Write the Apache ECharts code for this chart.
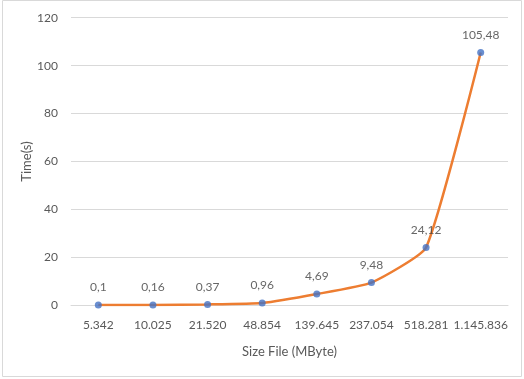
<!DOCTYPE html>
<html><head><meta charset="utf-8">
<script src="https://cdn.jsdelivr.net/npm/echarts@6/dist/echarts.min.js"></script>
<style>html,body{margin:0;padding:0;background:#fff}#c{width:524px;height:379px}</style>
</head><body><div id="c"></div>
<script>
const categories = ['5.342','10.025','21.520','48.854','139.645','237.054','518.281','1.145.836'];
const timeValues = [0.1, 0.16, 0.37, 0.96, 4.69, 9.48, 24.12, 105.48];
const yTicks = [0, 20, 40, 60, 80, 100, 120];
const xTitle = 'Size File (MByte)';
const yTitle = 'Time(s)';

const chart = echarts.init(document.getElementById('c'), null, {renderer:'canvas'});
const font = 'Lato, "Open Sans", sans-serif';
chart.setOption({
  animation: false,
  graphic: [{type:'rect', shape:{x:2.5,y:0.5,width:519,height:376}, style:{fill:'none', stroke:'#d9d9d9', lineWidth:1}, silent:true}],
  grid: {left:71, right:16, top:17.7, bottom:73.7},
  xAxis: {
    type:'category', data:categories, boundaryGap:true,
    name:xTitle, nameLocation:'middle', nameGap:40, nameMoveOverlap:false,
    nameTextStyle:{color:'#595959', fontSize:13, fontFamily:font},
    axisLine:{lineStyle:{color:'#d9d9d9', width:1}},
    axisTick:{show:false},
    axisLabel:{color:'#595959', fontSize:12, fontFamily:font, margin:14, interval:0}
  },
  yAxis: {
    type:'value', min:yTicks[0], max:yTicks[yTicks.length-1], interval:20,
    name:yTitle, nameLocation:'middle', nameGap:38, nameRotate:90, nameMoveOverlap:false,
    nameTextStyle:{color:'#595959', fontSize:13, fontFamily:font},
    axisLine:{show:false}, axisTick:{show:false},
    axisLabel:{color:'#595959', fontSize:12, fontFamily:font, margin:13},
    splitLine:{lineStyle:{color:'#d9d9d9', width:1}}
  },
  series: [
    {type:'line', data:timeValues, smooth:0.15, showSymbol:false, symbol:'none',
     lineStyle:{color:'#ED7D31', width:2.5}, z:2},
    {type:'scatter', data:timeValues, symbol:'circle', symbolSize:7,
     itemStyle:{color:'#4472C4'}, z:3,
     label:{show:true, position:'top', distance:8, color:'#404040', fontSize:12, fontFamily:font,
       formatter: p => String(p.value).replace('.', ',')}}
  ]
});
</script></body></html>
